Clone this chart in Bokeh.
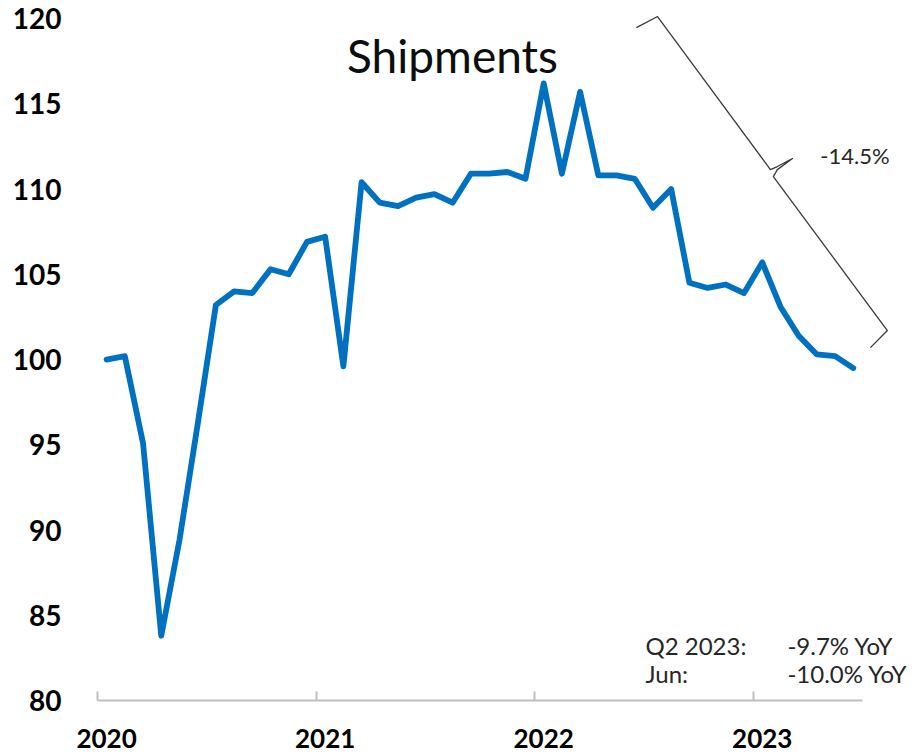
from bokeh.plotting import figure
from bokeh.models import LinearAxis, FixedTicker, Label, Range1d
from bokeh.embed import file_html
from bokeh.resources import INLINE

# ---- data (monthly index, Jan 2020 - Jun 2023) ----
YEARS = ["2020", "2021", "2022", "2023"]
SHIP_2020 = [100.0, 100.2, 95.1, 83.8, 89.4, 96.2, 103.2, 104.0, 103.9, 105.3, 105.0, 106.9]
SHIP_2021 = [107.2, 99.6, 110.4, 109.2, 109.0, 109.5, 109.7, 109.2, 110.9, 110.9, 111.0, 110.6]
SHIP_2022 = [116.2, 110.9, 115.7, 110.8, 110.8, 110.6, 108.9, 110.0, 104.5, 104.2, 104.4, 103.9]
SHIP_2023 = [105.7, 103.1, 101.4, 100.3, 100.2, 99.5]
Y_TICKS = [80, 85, 90, 95, 100, 105, 110, 115, 120]
TITLE = "Shipments"
DROP_LABEL = "-14.5%"
NOTE_NAMES = ["Q2 2023:", "Jun:"]
NOTE_VALUES = ["-9.7% YoY", "-10.0% YoY"]

values = SHIP_2020 + SHIP_2021 + SHIP_2022 + SHIP_2023
xs = list(range(len(values)))
year_pos = [12 * i for i in range(len(YEARS))]
year_bounds = [12 * i - 0.5 for i in range(len(YEARS))]

# brace (annotation shape) in data units
BRACE_X = [29.09, 30.25, 36.45, 36.83, 37.66, 36.83, 36.61, 42.87, 41.94]
BRACE_Y = [119.47, 120.12, 111.14, 111.32, 111.79, 111.14, 110.73, 101.70, 100.70]

W, H = 914, 756
p = figure(width=W, height=H, output_backend="svg", toolbar_location=None,
           x_range=Range1d(-0.5, 44.36), y_range=Range1d(80, 121.06),
           x_axis_location=None, y_axis_location=None,
           min_border_left=97, min_border_right=0, min_border_top=0, min_border_bottom=56)
p.outline_line_color = None
p.grid.visible = False
p.background_fill_color = "white"
p.border_fill_color = "white"

# y axis
yax = LinearAxis(ticker=FixedTicker(ticks=Y_TICKS))
yax.axis_line_color = None
yax.major_tick_line_color = None
yax.minor_tick_line_color = None
yax.major_tick_in = 0
yax.major_tick_out = 0
yax.major_label_standoff = 36
yax.major_label_text_font = "Lato"
yax.major_label_text_font_style = "bold"
yax.major_label_text_font_size = "28px"
yax.major_label_text_color = "#000000"
p.add_layout(yax, "left")

# x axis: line + tick marks at year boundaries
xline = LinearAxis(ticker=FixedTicker(ticks=year_bounds), bounds=(-0.5, len(values) - 0.5))
xline.axis_line_color = "#bfbfbf"
xline.axis_line_width = 2
xline.major_tick_line_color = "#bfbfbf"
xline.major_tick_line_width = 2
xline.major_tick_in = 9
xline.major_tick_out = 0
xline.minor_tick_line_color = None
xline.major_label_text_font_size = "1px"
xline.major_label_text_alpha = 0
xline.major_label_standoff = 0
p.add_layout(xline, "below")

# x axis: year labels
xlab = LinearAxis(ticker=FixedTicker(ticks=year_pos),
                  major_label_overrides={pos: lab for pos, lab in zip(year_pos, YEARS)})
xlab.axis_line_color = None
xlab.major_tick_line_color = None
xlab.minor_tick_line_color = None
xlab.major_tick_in = 0
xlab.major_tick_out = 0
xlab.major_label_standoff = 28
xlab.major_label_text_font = "Lato"
xlab.major_label_text_font_style = "bold"
xlab.major_label_text_font_size = "26px"
xlab.major_label_text_color = "#000000"
p.add_layout(xlab, "below")

# series
p.line(xs, values, line_color="#0070C0", line_width=5.8, line_join="round", line_cap="round")

# brace
p.line(BRACE_X, BRACE_Y, line_color="#3a3a3a", line_width=1.3, line_join="round")

# texts
p.add_layout(Label(x=18.99, y=117.83, text=TITLE, text_font="Lato", text_font_size="46px",
                   text_align="center", text_baseline="alphabetic", text_color="#0d0d0d"))
p.add_layout(Label(x=39.19, y=111.96, text=DROP_LABEL, text_font="Lato", text_font_size="22px",
                   text_align="left", text_baseline="alphabetic", text_color="#262626"))
for name, val, yb in zip(NOTE_NAMES, NOTE_VALUES, [83.23, 81.58]):
    p.add_layout(Label(x=29.59, y=yb, text=name, text_font="Lato", text_font_size="24px",
                       text_align="left", text_baseline="alphabetic", text_color="#262626"))
    p.add_layout(Label(x=37.38, y=yb, text=val, text_font="Lato", text_font_size="24px",
                       text_align="left", text_baseline="alphabetic", text_color="#262626"))

open("out.html", "w").write(file_html(p, INLINE))
